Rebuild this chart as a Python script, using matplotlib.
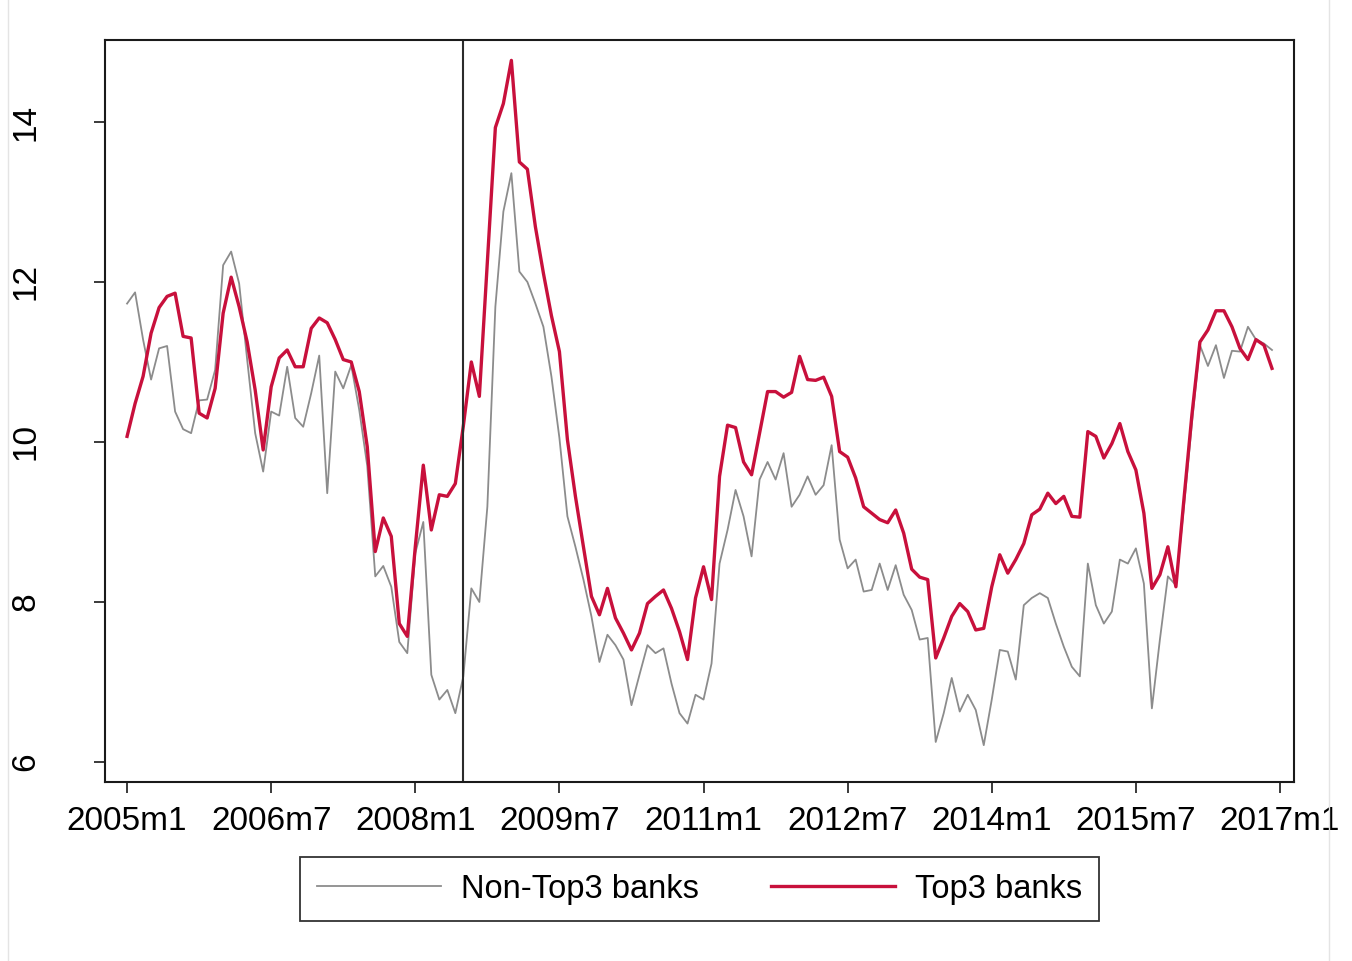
import matplotlib
matplotlib.use("Agg")
import matplotlib.pyplot as plt
import numpy as np

plt.rcParams["font.family"] = ["Liberation Sans", "DejaVu Sans"]

# Monthly series, 2005m1 .. 2016m12
top3 = [
    10.07, 10.48, 10.82, 11.36, 11.68, 11.82, 11.86, 11.32, 11.30, 10.36, 10.30, 10.67,
    11.61, 12.06, 11.69, 11.25, 10.65, 9.90, 10.69, 11.05, 11.15, 10.94, 10.94, 11.42,
    11.55, 11.49, 11.28, 11.03, 11.00, 10.63, 9.94, 8.63, 9.05, 8.82, 7.73, 7.57,
    8.69, 9.71, 8.90, 9.34, 9.32, 9.48, 10.20, 11.00, 10.57, 12.25, 13.93, 14.23,
    14.77, 13.50, 13.41, 12.69, 12.11, 11.58, 11.13, 10.03, 9.32, 8.69, 8.07, 7.84,
    8.17, 7.80, 7.61, 7.40, 7.61, 7.98, 8.07, 8.15, 7.92, 7.63, 7.28, 8.05,
    8.44, 8.03, 9.57, 10.21, 10.18, 9.75, 9.59, 10.11, 10.63, 10.63, 10.56, 10.62,
    11.07, 10.78, 10.77, 10.81, 10.57, 9.88, 9.81, 9.55, 9.19, 9.11, 9.03, 8.99,
    9.15, 8.86, 8.41, 8.31, 8.28, 7.30, 7.55, 7.82, 7.98, 7.88, 7.65, 7.67,
    8.19, 8.59, 8.36, 8.53, 8.73, 9.09, 9.16, 9.36, 9.23, 9.32, 9.07, 9.06,
    10.13, 10.07, 9.80, 9.98, 10.23, 9.88, 9.65, 9.11, 8.17, 8.34, 8.69, 8.19,
    9.28, 10.34, 11.25, 11.40, 11.64, 11.64, 11.44, 11.17, 11.03, 11.28, 11.21, 10.92,
]
non_top3 = [
    11.73, 11.87, 11.28, 10.78, 11.17, 11.20, 10.38, 10.16, 10.11, 10.52, 10.53, 10.90,
    12.21, 12.38, 11.98, 11.03, 10.11, 9.63, 10.38, 10.33, 10.94, 10.30, 10.19, 10.61,
    11.08, 9.36, 10.88, 10.67, 10.96, 10.40, 9.70, 8.32, 8.45, 8.19, 7.50, 7.36,
    8.61, 9.00, 7.09, 6.78, 6.90, 6.61, 7.07, 8.17, 8.00, 9.19, 11.69, 12.88,
    13.36, 12.13, 12.00, 11.73, 11.44, 10.82, 10.05, 9.07, 8.69, 8.28, 7.82, 7.25,
    7.59, 7.46, 7.28, 6.71, 7.09, 7.46, 7.36, 7.42, 6.98, 6.61, 6.48, 6.84,
    6.78, 7.23, 8.48, 8.90, 9.40, 9.07, 8.57, 9.53, 9.75, 9.53, 9.86, 9.19,
    9.34, 9.57, 9.34, 9.46, 9.96, 8.78, 8.42, 8.53, 8.13, 8.15, 8.48, 8.15,
    8.46, 8.09, 7.90, 7.53, 7.55, 6.25, 6.61, 7.05, 6.63, 6.84, 6.65, 6.21,
    6.78, 7.40, 7.38, 7.03, 7.96, 8.05, 8.11, 8.05, 7.73, 7.44, 7.19, 7.07,
    8.48, 7.96, 7.73, 7.88, 8.53, 8.48, 8.67, 8.23, 6.67, 7.53, 8.32, 8.21,
    9.19, 10.23, 11.21, 10.95, 11.21, 10.80, 11.14, 11.13, 11.44, 11.28, 11.23, 11.15,
]
tick_months = [0, 18, 36, 54, 72, 90, 108, 126, 144]
tick_labels = ["2005m1", "2006m7", "2008m1", "2009m7", "2011m1",
               "2012m7", "2014m1", "2015m7", "2017m1"]
y_ticks = [6, 8, 10, 12, 14]
event_month = 42  # 2008m7

months = np.arange(len(top3))

fig = plt.figure(figsize=(13.52, 9.61), dpi=100)
ax = fig.add_axes([0.0777, 0.1863, 0.8794, 0.7721])

ax.plot(months, non_top3, color="#8c8c8c", lw=1.3, label="Non-Top3 banks")
ax.plot(months, top3, color="#c8103c", lw=2.4, label="Top3 banks")
ax.axvline(event_month, color="#2b2b2b", lw=1.5)

ax.set_xlim(-2.75, 145.75)
ax.set_ylim(5.75, 15.025)
ax.set_xticks(tick_months)
ax.set_xticklabels(tick_labels)
ax.set_yticks(y_ticks)
ax.set_yticklabels([str(v) for v in y_ticks], rotation=90, va="center")
ax.tick_params(axis="both", labelsize=24, length=8, width=1.3,
               color="#2b2b2b", labelcolor="black")
ax.tick_params(axis="y", pad=38)
ax.tick_params(axis="x", pad=9)
for s in ax.spines.values():
    s.set_linewidth(1.5)
    s.set_color("#1a1a1a")

# thin frame edges of the graph region
fig.add_artist(plt.Line2D([0.006, 0.006], [0.0, 1.0], color="#e4e4e4", lw=1.0))
fig.add_artist(plt.Line2D([0.983, 0.983], [0.0, 1.0], color="#e4e4e4", lw=1.0))

leg = fig.legend(loc="center", bbox_to_anchor=(0.5174, 0.0749), ncol=2,
                 fontsize=23.5, frameon=True, fancybox=False,
                 edgecolor="#333333", framealpha=1,
                 handlelength=3.8, handletextpad=0.62, columnspacing=2.2,
                 borderpad=0.52)
leg.get_frame().set_linewidth(1.3)

fig.savefig("out.png", dpi=100, facecolor="white")
